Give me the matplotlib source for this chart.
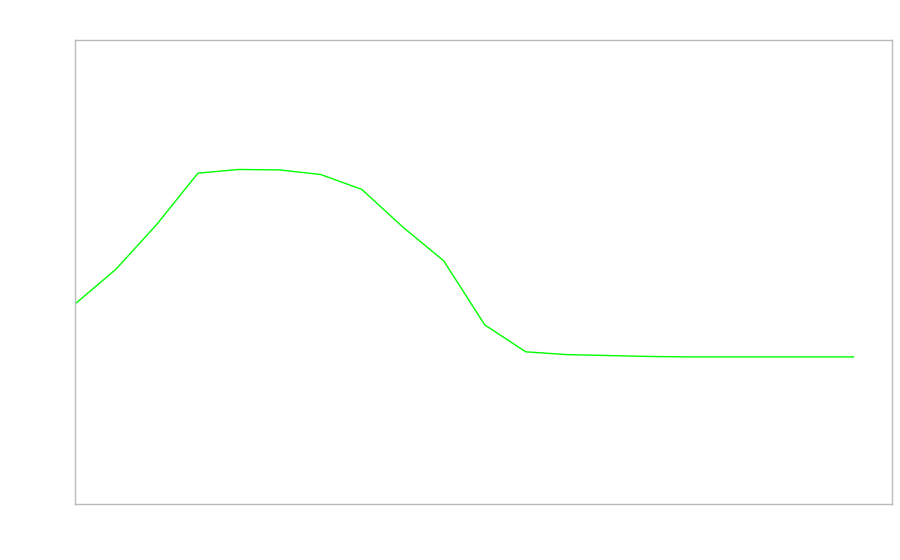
import matplotlib
matplotlib.use("Agg")
import matplotlib.pyplot as plt

x_values = list(range(20))
y_values = [43.1, 50.6, 60.3, 71.3, 72.1, 72.0, 71.0, 67.8, 59.7, 52.4,
            38.6, 32.8, 32.2, 32.0, 31.8, 31.7, 31.7, 31.7, 31.7, 31.7]

fig = plt.figure(figsize=(9, 5.6), dpi=100)
ax = fig.add_axes([75/900, 56/560, 817/900, 464/560])
ax.plot(x_values, y_values, color="#00ff00", linewidth=1.0)
ax.set_xlim(0, 19.94)
ax.set_ylim(0, 100)
ax.set_xticks([])
ax.set_yticks([])
for s in ax.spines.values():
    s.set_color("#bbbbbb")
    s.set_linewidth(1.0)
fig.savefig("out.png", dpi=100)
